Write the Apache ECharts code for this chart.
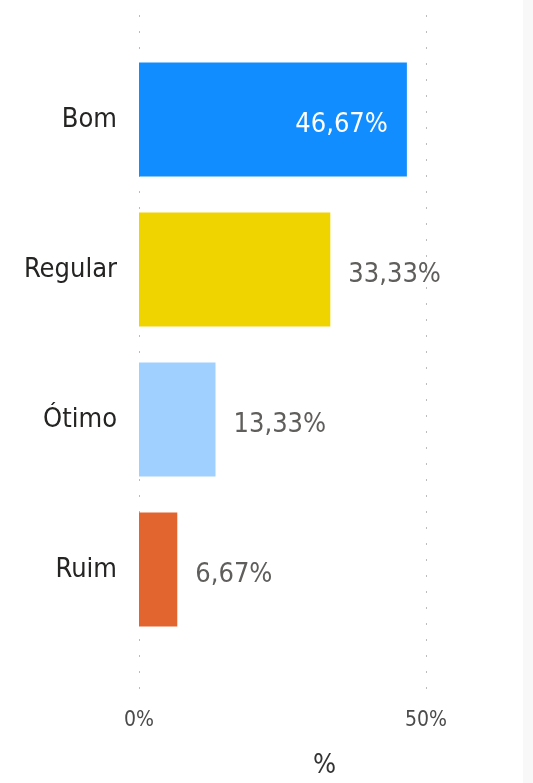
<!DOCTYPE html>
<html>
<head>
<meta charset="utf-8">
<title>Avaliação</title>
<script src="https://cdn.jsdelivr.net/npm/echarts@6/dist/echarts.min.js"></script>
<style>
    html, body {
        margin: 0;
        padding: 0;
        background: #ffffff;
    }
    .chart {
        width: 533px;
        height: 783px;
    }
    .edge {
        position: absolute;
        left: 523px;
        top: 0;
        width: 10px;
        height: 783px;
        background: #f8f8f8;
    }
</style>
</head>
<body>
<div id="chart" class="chart"></div>
<div class="edge"></div>
<script>
// dados
const categories = ['Bom', 'Regular', 'Ótimo', 'Ruim'];
const values = [46.67, 33.33, 13.33, 6.67];
const barColors = ['#118DFF', '#F0D400', '#A0D0FF', '#E2642F'];
const tickValues = [0, 50];

const FONT = "'DejaVu Sans Condensed', 'Liberation Sans Narrow', sans-serif";

// formato brasileiro: 46,67%
const fmt = (v) => Number(v).toFixed(2).replace('.', ',') + '%';

const axisMax = tickValues[tickValues.length - 1];

const myChart = echarts.init(document.getElementById('chart'));

const barData = values.map((v, i) => {
    // rótulo dentro da barra quando ela é longa
    const inside = v / axisMax > 0.8;
    return {
        value: v,
        itemStyle: { color: barColors[i] },
        label: inside
            ? { position: 'insideRight', color: '#ffffff', distance: 19 }
            : { position: 'right', color: '#605E5C', distance: 18 }
    };
});

const option = {
    animation: false,
    grid: [
        // grade das linhas pontilhadas e rótulos do eixo
        { left: 139, right: 107, top: 15, bottom: 93 },
        // grade das barras
        { left: 139, right: 107, top: 44.5, height: 600 }
    ],
    xAxis: [
        {
            gridIndex: 0,
            type: 'value',
            min: 0,
            max: axisMax,
            interval: 50,
            axisLine: { show: false },
            axisTick: { show: false },
            axisLabel: {
                formatter: '{value}%',
                fontFamily: FONT,
                fontSize: 21,
                color: '#4a4a4a',
                margin: 20
            },
            splitLine: {
                show: true,
                lineStyle: { color: '#bdbdbd', width: 1, type: [2, 14] }
            }
        },
        {
            gridIndex: 1,
            type: 'value',
            min: 0,
            max: axisMax,
            show: false
        }
    ],
    yAxis: [
        {
            gridIndex: 0,
            type: 'value',
            show: false
        },
        {
            gridIndex: 1,
            type: 'category',
            inverse: true,
            data: categories,
            axisLine: { show: false },
            axisTick: { show: false },
            axisLabel: {
                fontFamily: FONT,
                fontSize: 27,
                color: '#252423',
                margin: 22,
                padding: [16, 0, 0, 0]
            }
        }
    ],
    graphic: [
        {
            type: 'text',
            left: 313,
            top: 752,
            style: {
                text: '%',
                font: '27px ' + FONT,
                fill: '#333333'
            }
        }
    ],
    series: [
        {
            name: '%',
            type: 'bar',
            xAxisIndex: 1,
            yAxisIndex: 1,
            barWidth: '76%',
            data: barData,
            label: {
                show: true,
                fontFamily: FONT,
                fontSize: 27,
                offset: [0, 5],
                formatter: (p) => fmt(p.value)
            }
        }
    ]
};

myChart.setOption(option);
</script>
</body>
</html>
